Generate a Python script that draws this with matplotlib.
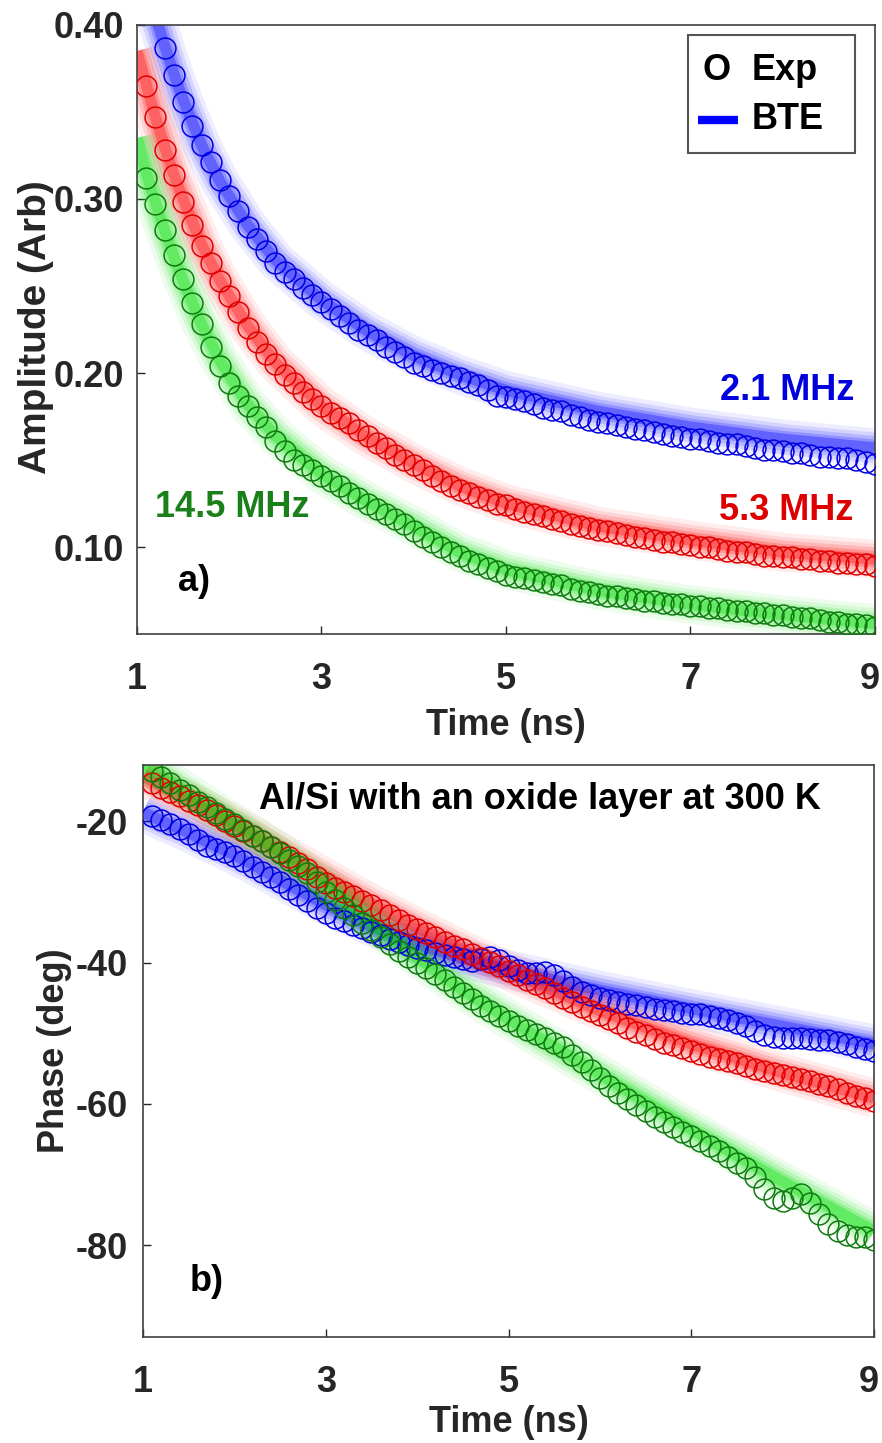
import numpy as np
import matplotlib
matplotlib.use('Agg')
import matplotlib.pyplot as plt
from matplotlib.patches import Rectangle
from matplotlib.transforms import ScaledTranslation

plt.rcParams['font.family'] = ['Liberation Sans', 'DejaVu Sans']
plt.rcParams['font.weight'] = 'bold'
plt.rcParams['axes.labelweight'] = 'bold'
plt.rcParams['axes.unicode_minus'] = False

# sample times of the measurement (ns)
t = np.round(np.linspace(1.1, 9.0, 80), 2)

# amplitude data
amp_blue = [0.421, 0.402, 0.387, 0.371, 0.356, 0.342, 0.331, 0.321, 0.311, 0.302,
            0.293, 0.284, 0.277, 0.270, 0.263, 0.258, 0.254, 0.249, 0.245, 0.241,
            0.237, 0.233, 0.229, 0.225, 0.222, 0.219, 0.215, 0.212, 0.209, 0.206,
            0.204, 0.202, 0.200, 0.198, 0.197, 0.195, 0.193, 0.190, 0.187, 0.186,
            0.185, 0.184, 0.182, 0.180, 0.179, 0.178, 0.176, 0.175, 0.173, 0.172,
            0.171, 0.170, 0.169, 0.168, 0.167, 0.166, 0.165, 0.164, 0.163, 0.162,
            0.162, 0.161, 0.160, 0.159, 0.159, 0.158, 0.157, 0.156, 0.156, 0.155,
            0.154, 0.154, 0.153, 0.152, 0.152, 0.151, 0.151, 0.150, 0.149, 0.148]
amp_red = [0.365, 0.347, 0.328, 0.314, 0.298, 0.285, 0.273, 0.263, 0.253, 0.244,
           0.235, 0.226, 0.218, 0.211, 0.205, 0.199, 0.194, 0.189, 0.185, 0.181,
           0.177, 0.174, 0.171, 0.167, 0.164, 0.160, 0.157, 0.153, 0.150, 0.147,
           0.144, 0.141, 0.138, 0.135, 0.133, 0.131, 0.129, 0.127, 0.125, 0.124,
           0.122, 0.120, 0.119, 0.118, 0.116, 0.115, 0.113, 0.112, 0.111, 0.110,
           0.109, 0.108, 0.107, 0.106, 0.105, 0.104, 0.103, 0.103, 0.102, 0.101,
           0.100, 0.100, 0.099, 0.098, 0.097, 0.097, 0.096, 0.095, 0.095, 0.094,
           0.094, 0.093, 0.093, 0.092, 0.092, 0.091, 0.091, 0.090, 0.090, 0.089]
amp_green = [0.312, 0.297, 0.282, 0.268, 0.254, 0.240, 0.228, 0.215, 0.204, 0.194,
             0.187, 0.181, 0.175, 0.169, 0.161, 0.155, 0.150, 0.147, 0.144, 0.141,
             0.138, 0.135, 0.131, 0.128, 0.125, 0.122, 0.119, 0.116, 0.113, 0.109,
             0.106, 0.103, 0.100, 0.097, 0.095, 0.092, 0.090, 0.088, 0.086, 0.084,
             0.083, 0.082, 0.081, 0.080, 0.079, 0.078, 0.076, 0.075, 0.074, 0.073,
             0.072, 0.072, 0.071, 0.070, 0.069, 0.069, 0.068, 0.067, 0.067, 0.066,
             0.066, 0.065, 0.065, 0.064, 0.063, 0.063, 0.062, 0.062, 0.061, 0.061,
             0.060, 0.059, 0.059, 0.058, 0.057, 0.057, 0.056, 0.056, 0.055, 0.054]

# phase data (deg)
ph_blue = [-19.3, -19.8, -20.4, -21.0, -21.8, -22.6, -23.5, -23.9, -24.3, -24.9,
           -25.6, -26.4, -27.1, -27.8, -28.6, -29.5, -30.4, -31.3, -32.2, -33.0,
           -33.6, -34.1, -34.6, -35.1, -35.6, -36.1, -36.6, -37.1, -37.5, -37.9,
           -38.2, -38.6, -38.9, -39.2, -39.5, -39.7, -39.5, -39.2, -39.6, -40.4,
           -41.0, -41.4, -41.5, -41.3, -41.8, -42.6, -43.4, -44.1, -44.6, -45.0,
           -45.3, -45.6, -45.8, -46.0, -46.3, -46.5, -46.7, -46.9, -47.1, -47.2,
           -47.3, -47.5, -47.8, -48.1, -48.5, -49.0, -49.6, -50.2, -50.5, -50.6,
           -50.6, -50.7, -50.8, -50.9, -51.0, -51.2, -51.5, -51.9, -52.2, -52.5]
ph_red = [-14.5, -15.2, -15.8, -16.4, -17.1, -17.7, -18.4, -19.1, -19.9, -20.6,
          -21.3, -22.1, -22.8, -23.6, -24.3, -25.1, -25.9, -26.8, -27.8, -28.7,
          -29.4, -30.0, -30.6, -31.3, -31.9, -32.6, -33.3, -34.0, -34.6, -35.2,
          -35.8, -36.4, -37.0, -37.6, -38.1, -38.7, -39.3, -39.9, -40.5, -41.2,
          -41.8, -42.4, -43.0, -43.6, -44.3, -45.0, -45.6, -46.2, -46.8, -47.4,
          -48.0, -48.6, -49.2, -49.8, -50.3, -50.8, -51.3, -51.7, -52.1, -52.5,
          -52.9, -53.3, -53.6, -53.9, -54.2, -54.6, -55.0, -55.3, -55.6, -55.9,
          -56.2, -56.5, -56.8, -57.1, -57.5, -57.9, -58.4, -58.8, -59.2, -59.6]
ph_green = [-12.9, -13.7, -14.6, -15.5, -16.3, -17.2, -18.0, -18.8, -19.6, -20.4,
            -21.2, -22.0, -22.8, -23.6, -24.5, -25.4, -26.3, -27.3, -28.6, -30.0,
            -31.1, -32.2, -33.3, -34.4, -35.4, -36.4, -37.4, -38.3, -39.2, -40.0,
            -40.8, -41.6, -42.5, -43.4, -44.3, -45.2, -46.1, -46.9, -47.6, -48.3,
            -48.9, -49.5, -50.1, -50.7, -51.3, -52.0, -53.0, -54.1, -55.2, -56.3,
            -57.4, -58.4, -59.3, -60.2, -61.0, -61.8, -62.6, -63.3, -64.0, -64.6,
            -65.2, -65.9, -66.7, -67.5, -68.3, -69.1, -70.3, -72.0, -73.3, -73.8,
            -73.3, -72.8, -74.0, -75.6, -77.0, -78.0, -78.6, -78.8, -78.9, -79.2]

# BTE fits
bte_t = [1.0, 1.1, 1.2, 1.3, 1.4, 1.5, 1.7, 1.9, 2.2, 2.5, 3.0, 3.5, 4.0, 4.5, 5.0, 6.0, 7.0, 8.0, 9.0]
bte_amp_blue = [0.445, 0.425, 0.405, 0.388, 0.372, 0.357, 0.331, 0.310, 0.285, 0.265,
                0.242, 0.224, 0.210, 0.199, 0.190, 0.178, 0.169, 0.162, 0.157]
bte_amp_red = [0.385, 0.366, 0.347, 0.330, 0.314, 0.300, 0.274, 0.253, 0.227, 0.206,
               0.181, 0.163, 0.148, 0.135, 0.125, 0.112, 0.104, 0.097, 0.093]
bte_amp_green = [0.335, 0.315, 0.298, 0.282, 0.267, 0.253, 0.228, 0.207, 0.182, 0.164,
                 0.142, 0.126, 0.112, 0.097, 0.087, 0.075, 0.067, 0.061, 0.056]
bte_ph_blue = [-18.7, -19.3, -19.9, -20.5, -21.0, -21.6, -22.9, -24.1, -26.1, -28.3,
               -31.8, -34.9, -37.4, -39.4, -41.0, -43.9, -46.5, -49.0, -51.5]
bte_ph_red = [-13.6, -14.3, -15.0, -15.7, -16.4, -17.0, -18.4, -19.8, -22.0, -24.3,
              -28.0, -31.6, -35.0, -38.2, -41.2, -46.8, -51.5, -55.6, -59.2]
bte_ph_green = [-11.8, -12.6, -13.5, -14.3, -15.2, -16.0, -17.7, -19.4, -21.8, -24.4,
                -29.2, -34.3, -39.3, -43.9, -48.0, -55.8, -63.6, -71.0, -78.0]

freqs = ['2.1 MHz', '5.3 MHz', '14.5 MHz']
band_cols = ['#0000ff', '#ff0000', '#00e000']
edge_cols = ['#0000e0', '#e00000', '#107a10']


def band(ax, x, y, color):
    # soft, wide fit line
    for lw, a in zip([28, 22, 17, 12, 8], [0.07, 0.10, 0.14, 0.20, 0.32]):
        ax.plot(x, y, color=color, lw=lw, alpha=a, solid_capstyle='butt', zorder=2)


def circles(ax, x, y, color, top):
    x = np.asarray(x)
    y = np.asarray(y)
    keep = y <= top
    ax.plot(x[keep], y[keep], 'o', ms=15, mfc='none', mec=color, mew=1.1, zorder=3)


def style(ax, xpad, ypad):
    ax.set_xlim(1, 9)
    ax.set_xticks([1, 3, 5, 7, 9])
    ax.tick_params(direction='in', length=6, width=1, labelsize=26, colors='#262626',
                   top=False, right=False)
    ax.tick_params(axis='x', pad=xpad)
    ax.tick_params(axis='y', pad=ypad)
    for s in ax.spines.values():
        s.set_color('#404040')
        s.set_linewidth(1.2)
    # nudge the "9" so it stays inside the figure
    lab = ax.get_xticklabels()[-1]
    lab.set_transform(lab.get_transform() + ScaledTranslation(-4 / 72, 0, fig.dpi_scale_trans))


fig = plt.figure(figsize=(8.82, 14.43), dpi=100)
ax1 = fig.add_axes([0.1553, 0.5606, 0.8367, 0.4221])
ax2 = fig.add_axes([0.1621, 0.0734, 0.8289, 0.3965])

# ---- a) amplitude
for yb, ye, bc, ec in zip([bte_amp_blue, bte_amp_red, bte_amp_green],
                          [amp_blue, amp_red, amp_green], band_cols, edge_cols):
    band(ax1, bte_t, yb, bc)
    circles(ax1, t, ye, ec, 0.40)

ax1.set_ylim(0.05, 0.40)
ax1.set_yticks([0.10, 0.20, 0.30, 0.40])
ax1.set_yticklabels(['0.10', '0.20', '0.30', '0.40'])
style(ax1, 20, 9)
ax1.set_xlabel('Time (ns)', fontsize=26, color='#262626')
ax1.xaxis.set_label_coords(0.5, -0.122)
ax1.set_ylabel('Amplitude (Arb)', fontsize=28, color='#262626')
ax1.yaxis.set_label_coords(-0.113, 0.504)

ax1.text(8.78, 0.1897, freqs[0], color='#0000dd', fontsize=26, ha='right', va='center')
ax1.text(8.76, 0.1211, freqs[1], color='#dd0000', fontsize=26, ha='right', va='center')
ax1.text(1.195, 0.1229, freqs[2], color='#1a801a', fontsize=26, ha='left', va='center')
ax1.text(1.44, 0.080, 'a)', color='black', fontsize=26, ha='left', va='center')

# legend drawn by hand: a text "O" stands for the marker
ax1.add_patch(Rectangle((0.7466, 0.7898), 0.2264, 0.1938, transform=ax1.transAxes,
                        fc='white', ec='#555555', lw=1.5, zorder=5))
ax1.text(0.786, 0.926, 'O', transform=ax1.transAxes, fontsize=26, ha='center',
         va='center', zorder=6)
ax1.text(0.833, 0.926, 'Exp', transform=ax1.transAxes, fontsize=26, ha='left',
         va='center', zorder=6)
ax1.plot([0.760, 0.814], [0.844, 0.844], transform=ax1.transAxes, color='#0000ff',
         lw=6, solid_capstyle='butt', zorder=6)
ax1.text(0.833, 0.844, 'BTE', transform=ax1.transAxes, fontsize=26, ha='left',
         va='center', zorder=6)

# ---- b) phase
for yb, ye, bc, ec in zip([bte_ph_blue, bte_ph_red, bte_ph_green],
                          [ph_blue, ph_red, ph_green], band_cols, edge_cols):
    band(ax2, bte_t, yb, bc)
    circles(ax2, t, ye, ec, 0)

ax2.set_ylim(-93, -12)
ax2.set_yticks([-80, -60, -40, -20])
style(ax2, 20, 11)
ax2.set_xlabel('Time (ns)', fontsize=26, color='#262626')
ax2.xaxis.set_label_coords(0.5, -0.119)
ax2.set_ylabel('Phase (deg)', fontsize=26, color='#262626')
ax2.yaxis.set_label_coords(-0.097, 0.5)

ax2.text(0.543, 0.939, 'Al/Si with an oxide layer at 300 K', transform=ax2.transAxes,
         fontsize=26, ha='center', va='center', color='black')
ax2.text(1.51, -85.1, 'b)', color='black', fontsize=26, ha='left', va='center')

fig.savefig('out.png', dpi=100)
